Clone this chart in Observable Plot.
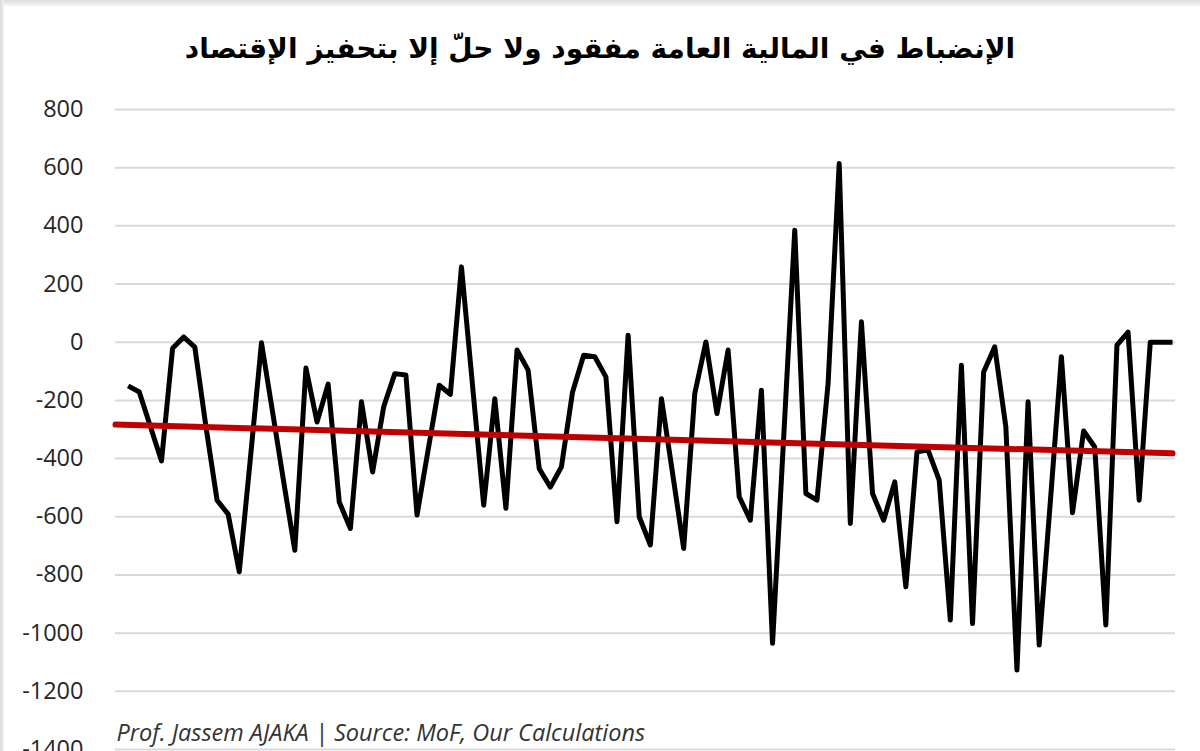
<!DOCTYPE html>
<html>
<head>
<meta charset="utf-8">
<script src="https://cdn.jsdelivr.net/npm/d3@7"></script>
<script src="https://cdn.jsdelivr.net/npm/@observablehq/plot@0.6"></script>
<style>
  html, body { margin: 0; padding: 0; background: #fff; width: 1200px; height: 751px; overflow: hidden; }
  #edgeTop { position: absolute; left: 0; top: 0; width: 1200px; height: 6px; background: linear-gradient(#dcdcdc, #f4f4f4); }
  #edgeLeft { position: absolute; left: 0; top: 0; width: 4px; height: 751px; background: linear-gradient(90deg, #d8d8d8, #f4f4f4); }
  #title { position: absolute; top: 27px; left: 0; width: 1200px; text-align: center; direction: rtl;
           font-family: "DejaVu Sans", sans-serif; font-weight: bold; font-size: 28px; color: #000; line-height: 44px; }
  #chart { position: absolute; top: 80px; left: 0; }
</style>
</head>
<body>
<div id="edgeTop"></div>
<div id="edgeLeft"></div>
<div id="title"></div>
<div id="chart"></div>
<script>
const titleText = "الإنضباط في المالية العامة مفقود ولا حلّ إلا بتحفيز الإقتصاد";
const captionText = "Prof. Jassem AJAKA | Source: MoF, Our Calculations";
const yTicks = [-1400, -1200, -1000, -800, -600, -400, -200, 0, 200, 400, 600, 800];
const values = [
  -150, -171, -290, -408, -21, 18, -17, -290, -543, -591,
  -789, -400, -2, -240, -480, -715, -89, -274, -144, -549,
  -640, -205, -446, -222, -108, -113, -594, -370, -148, -179,
  259, -150, -560, -194, -571, -27, -96, -435, -498, -428,
  -171, -45, -50, -119, -617, 24, -600, -697, -194, -450,
  -709, -176, 1, -245, -27, -531, -612, -165, -1035, -330,
  385, -520, -543, -142, 614, -623, 70, -520, -612, -480,
  -841, -377, -371, -474, -955, -79, -967, -102, -16, -291,
  -1127, -205, -1041, -550, -50, -586, -305, -360, -972, -10,
  35, -543, 0, 0, 0
];
const trendIndex = [-1.14, 94];
const trendValues = [-283, -382];

document.getElementById("title").textContent = titleText;

const series = values.map((v, i) => ({i, v}));
const trend = trendIndex.map((i, k) => ({i, v: trendValues[k]}));

const chart = Plot.plot({
  width: 1200,
  height: 680,
  marginTop: 29,
  marginBottom: 11,
  marginLeft: 115,
  marginRight: 25,
  x: { domain: [-1.14, 94.27], axis: null },
  y: { domain: [-1400, 800], ticks: yTicks, tickFormat: d => String(d), tickSize: 0, tickPadding: 32, label: null },
  style: { fontFamily: "'Open Sans', sans-serif", fontSize: "23.5px", color: "#262626", background: "transparent" },
  marks: [
    Plot.gridY(yTicks, { stroke: "#d9d9d9", strokeOpacity: 1, strokeWidth: 2 }),
    Plot.line(series, { x: "i", y: "v", stroke: "#000", strokeWidth: 5, strokeLinejoin: "round", strokeLinecap: "butt" }),
    Plot.line(trend, { x: "i", y: "v", stroke: "#c00000", strokeWidth: 6, strokeLinecap: "round" }),
    Plot.text([captionText], { frameAnchor: "bottom-left", text: d => d, textAnchor: "start", lineAnchor: "bottom", dx: 1, dy: -9,
      fontStyle: "italic", fontSize: 23.5, fill: "#333", fontFamily: "'Open Sans', sans-serif" })
  ]
});
document.getElementById("chart").appendChild(chart);
</script>
</body>
</html>
